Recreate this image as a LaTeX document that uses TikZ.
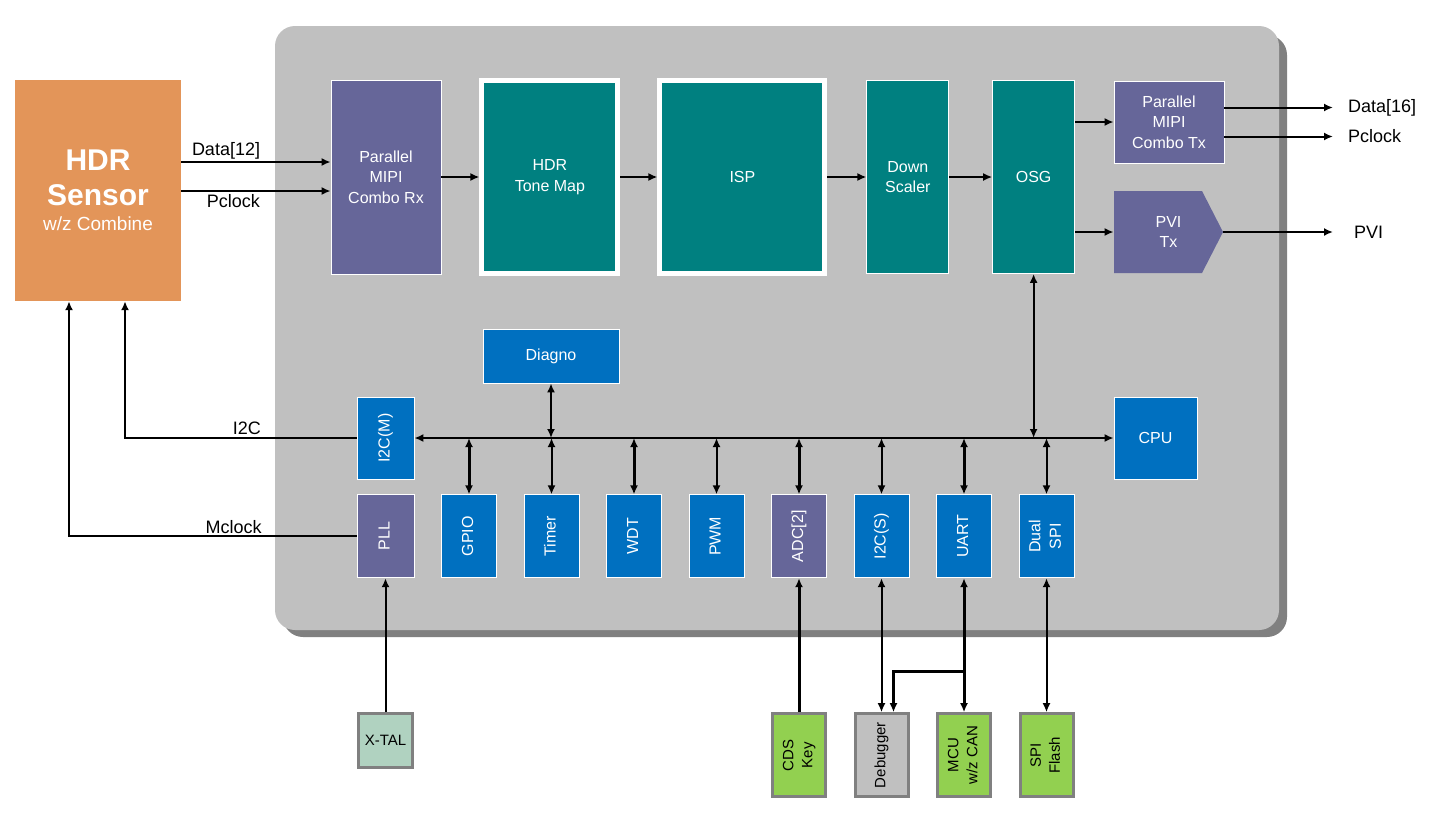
\documentclass[tikz,border=0pt]{standalone}
\usepackage{fontspec}
\setmainfont{Liberation Sans}
\usetikzlibrary{arrows.meta,positioning}
\definecolor{sensororange}{HTML}{E39559}
\definecolor{ippurple}{HTML}{666699}
\definecolor{pipeteal}{HTML}{008080}
\definecolor{periblue}{HTML}{0070C0}
\definecolor{extgreen}{HTML}{92D050}
\definecolor{xtalgreen}{HTML}{B0D2C0}
\definecolor{chipgray}{HTML}{C0C0C0}
\definecolor{shadegray}{HTML}{808080}
\newcommand{\vlabel}[1]{\rotatebox{90}{\begin{tabular}{@{}c@{}}#1\end{tabular}}}

\begin{document}
\begin{tikzpicture}[x=1pt, y=-1pt,
  block/.style={rectangle, draw=white, line width=0.8pt, text=white, align=center, inner sep=0pt, font=\fontsize{16}{20.5}\selectfont},
  ipblock/.style={block, fill=ippurple},
  pipeblock/.style={block, fill=pipeteal, minimum height=193pt},
  periph/.style={block, fill=periblue, minimum width=55pt, minimum height=83pt},
  extbox/.style={rectangle, draw=shadegray, line width=3pt, fill=extgreen, minimum width=53pt, minimum height=83pt, text=black, inner sep=0pt, font=\fontsize{15}{19}\selectfont},
  sig/.style={font=\fontsize{18}{20}\selectfont, text=black, inner sep=2pt},
  link/.style={-{Latex[length=9pt,width=8pt]}, line width=2pt},
  dlink/.style={{Latex[length=9pt,width=8pt]}-{Latex[length=9pt,width=8pt]}, line width=2pt},
  heavy/.style={line width=3pt},
]
  \useasboundingbox (0,0) rectangle (1437,825);
  % chip body with its shadow
  \fill[shadegray, rounded corners=20pt] (283,35) rectangle (1287,637);
  \fill[chipgray, rounded corners=20pt] (275,26) rectangle (1279,630);

  \node[rectangle, fill=sensororange, minimum width=166pt, minimum height=221pt, text=white, align=center, font=\fontsize{30}{35}\selectfont\bfseries] (sensor) at (98,190.5) {HDR\\Sensor\\[-10pt]\fontsize{19}{24}\selectfont\mdseries w/z Combine};

  % video pipeline
  \node[ipblock, minimum width=110pt, minimum height=194pt] (rx) at (386,177) {Parallel\\MIPI\\Combo Rx};
  \node[pipeblock, line width=5pt, minimum width=136pt, right=38pt of rx] (tone) {HDR\\Tone Map};
  \node[pipeblock, line width=5pt, minimum width=165pt, right=37pt of tone] (isp) {ISP};
  \node[pipeblock, minimum width=82pt, right=39pt of isp] (down) {Down\\Scaler};
  \node[pipeblock, minimum width=82pt, right=43pt of down] (osg) {OSG};
  \node[ipblock, minimum width=110pt, minimum height=82pt] (tx) at (1169,122) {Parallel\\MIPI\\Combo Tx};
  \fill[ippurple] (1114,191) -- (1202,191) -- (1223,232) -- (1202,273) -- (1114,273) -- cycle;
  \node[block, draw=none, minimum width=109pt, minimum height=82pt] (pvi) at (1168.5,232) {PVI\\Tx};

  % control side
  \node[periph, minimum width=136pt, minimum height=54pt] (diagno) at (551,356) {Diagno};
  \node[periph, minimum width=57pt, minimum height=82pt] (i2cm) at (385.5,438) {\vlabel{I2C(M)}};
  \node[periph, minimum width=83pt, minimum height=82pt] (cpu) at (1155.5,438) {CPU};
  \node[periph, fill=ippurple, minimum width=57pt, below=15pt of i2cm] (pll) {\vlabel{PLL}};
  \node[periph, right=26.7pt of pll] (gpio) {\vlabel{GPIO}};
  \node[periph, right=26.7pt of gpio] (timer) {\vlabel{Timer}};
  \node[periph, right=26.7pt of timer] (wdt) {\vlabel{WDT}};
  \node[periph, right=26.7pt of wdt] (pwm) {\vlabel{PWM}};
  \node[periph, fill=ippurple, right=26.7pt of pwm] (adc) {\vlabel{ADC[2]}};
  \node[periph, right=26.7pt of adc] (i2cs) {\vlabel{I2C(S)}};
  \node[periph, right=26.7pt of i2cs] (uart) {\vlabel{UART}};
  \node[periph, right=26.7pt of uart] (spi) {\vlabel{Dual\\SPI}};

  % off-chip parts
  \node[extbox, fill=xtalgreen, minimum width=54pt, minimum height=54pt, below=134pt of pll] (xtal) {X-TAL};
  \node[extbox, below=134pt of adc] (cds) {\vlabel{CDS\\Key}};
  \node[extbox, fill=chipgray, below=134pt of i2cs] (dbg) {\vlabel{Debugger}};
  \node[extbox, below=134pt of uart] (mcu) {\vlabel{MCU\\w/z CAN}};
  \node[extbox, below=134pt of spi] (flash) {\vlabel{SPI\\Flash}};

  % sensor in
  \coordinate (d12) at ([yshift=28.5pt]sensor.east);
  \coordinate (pck12) at ([yshift=-0.5pt]sensor.east);
  \draw[link] (d12) -- (d12 -| rx.west) node[sig, above, pos=0.3] {Data[12]};
  \draw[link] (pck12) -- (pck12 -| rx.west) node[sig, below, pos=0.35] {Pclock};
  \draw[link] (i2cm.west) -| ([xshift=27pt]sensor.south) node[sig, above left, pos=0.2] {I2C};
  \draw[link] (pll.west) -| ([xshift=-29pt]sensor.south) node[sig, above left, pos=0.16] {Mclock};

  \draw[link] (rx.east) -- (tone.west);
  \draw[link] (tone.east) -- (isp.west);
  \draw[link] (isp.east) -- (down.west);
  \draw[link] (down.east) -- (osg.west);
  \draw[link] (osg.east |- tx.west) -- (tx.west);
  \draw[link] (osg.east |- pvi.west) -- (pvi.west);

  % outputs
  \coordinate (outx) at (1333,0);
  \coordinate (d16) at ([yshift=14.5pt]tx.east);
  \coordinate (pck) at ([yshift=-14.5pt]tx.east);
  \draw[link] (d16) -- (d16 -| outx) node[sig, right=12pt] {Data[16]};
  \draw[link] (pck) -- (pck -| outx) node[sig, right=12pt] {Pclock};
  \draw[link] (pvi.east) -- (pvi.east -| outx) node[sig, right=18pt] {PVI};

  % bus
  \draw[dlink] (i2cm.east) -- (cpu.west);
  \draw[dlink] (diagno.south) -- (diagno.south |- i2cm.east);
  \draw[dlink] (osg.south) -- (osg.south |- cpu.west);
  \draw[dlink, heavy] (gpio.north) -- (gpio.north |- i2cm.east);
  \draw[dlink] (timer.north) -- (timer.north |- i2cm.east);
  \draw[dlink, heavy] (wdt.north) -- (wdt.north |- i2cm.east);
  \draw[dlink] (pwm.north) -- (pwm.north |- i2cm.east);
  \draw[dlink, heavy] (adc.north) -- (adc.north |- i2cm.east);
  \draw[dlink] (i2cs.north) -- (i2cs.north |- i2cm.east);
  \draw[dlink, heavy] (uart.north) -- (uart.north |- i2cm.east);
  \draw[dlink] (spi.north) -- (spi.north |- i2cm.east);

  % off-chip links
  \draw[link] (xtal.north) -- (pll.south);
  \draw[link, heavy] (cds.north) -- (adc.south);
  \draw[dlink] (i2cs.south) -- (dbg.north);
  \draw[dlink, heavy] (uart.south) -- (mcu.north);
  \path (mcu.north) ++(0,-41) coordinate (canjoin);
  \draw[link, heavy] (canjoin) -| ([xshift=12pt]dbg.north);
  \draw[dlink] (spi.south) -- (flash.north);
\end{tikzpicture}
\end{document}
